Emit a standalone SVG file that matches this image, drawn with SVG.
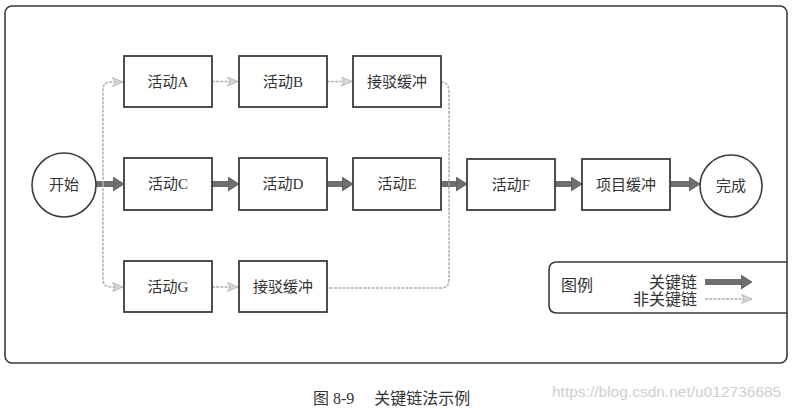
<svg xmlns="http://www.w3.org/2000/svg" width="795" height="409" viewBox="0 0 795 409">
<style>
.box{fill:#fff;stroke:#3c3c3c;stroke-width:1.8}
.circ{fill:#fff;stroke:#3c3c3c;stroke-width:1.6}
.t{font-family:"Liberation Serif","Noto Sans CJK SC",serif;font-size:15px;fill:#333;text-anchor:middle;dominant-baseline:central}
.crit{stroke:#6e6e6e;stroke-width:6;fill:none}
.non{stroke:#b0b0b0;stroke-width:1.5;fill:none;stroke-dasharray:3 1.2}
.frame{fill:none;stroke:#3a3a3a;stroke-width:1.6}
</style>
<defs>
<marker id="hc" markerUnits="userSpaceOnUse" markerWidth="12" markerHeight="16" refX="0" refY="7" orient="auto">
<path d="M0,0 L11,7 L0,14 Z" fill="#6e6e6e" stroke="#555" stroke-width="0.8"/>
</marker>
<marker id="hn" markerUnits="userSpaceOnUse" markerWidth="12" markerHeight="12" refX="11" refY="5" orient="auto">
<path d="M0.5,0.5 L11,5 L0.5,9.5 L3,5 Z" fill="#d6d6d6" stroke="#b0b0b0" stroke-width="0.8"/>
</marker>
</defs>
<rect class="frame" x="5" y="6" width="782" height="357" rx="7"/>
<g id="connectors">
<line class="crit" x1="96" y1="184" x2="113" y2="184" marker-end="url(#hc)"/>
<line class="crit" x1="212" y1="184" x2="228" y2="184" marker-end="url(#hc)"/>
<line class="crit" x1="327" y1="184" x2="342" y2="184" marker-end="url(#hc)"/>
<line class="crit" x1="441" y1="184" x2="456" y2="184" marker-end="url(#hc)"/>
<line class="crit" x1="555" y1="184" x2="571" y2="184" marker-end="url(#hc)"/>
<line class="crit" x1="670" y1="184" x2="689" y2="184" marker-end="url(#hc)"/>
<line class="non" x1="212" y1="81.5" x2="238" y2="81.5" marker-end="url(#hn)"/>
<line class="non" x1="327" y1="81.5" x2="352" y2="81.5" marker-end="url(#hn)"/>
<line class="non" x1="212" y1="287" x2="238" y2="287" marker-end="url(#hn)"/>
<path class="non" d="M103,184 V90 Q103,82 111,82 H123" marker-end="url(#hn)"/>
<path class="non" d="M103,184 V279 Q103,287 111,287 H123" marker-end="url(#hn)"/>
<path class="non" d="M441,82 Q449,82 449,92 V280 Q449,288 441,288 H327"/>
</g>
<g id="start"><circle class="circ" cx="64" cy="185" r="32"/><text class="t" x="64" y="185">开始</text></g>
<g id="actA"><rect class="box" x="124" y="56" width="88" height="51"/><text class="t" x="168" y="81.5">活动A</text></g>
<g id="actB"><rect class="box" x="239" y="56" width="88" height="51"/><text class="t" x="283" y="81.5">活动B</text></g>
<g id="buf1"><rect class="box" x="353" y="56" width="88" height="51"/><text class="t" x="397" y="81.5">接驳缓冲</text></g>
<g id="actC"><rect class="box" x="124" y="158" width="88" height="52"/><text class="t" x="168" y="184">活动C</text></g>
<g id="actD"><rect class="box" x="239" y="158" width="88" height="52"/><text class="t" x="283" y="184">活动D</text></g>
<g id="actE"><rect class="box" x="353" y="158" width="88" height="52"/><text class="t" x="397" y="184">活动E</text></g>
<g id="actF"><rect class="box" x="467" y="159" width="88" height="51"/><text class="t" x="511" y="184.5">活动F</text></g>
<g id="projbuf"><rect class="box" x="582" y="159" width="88" height="51"/><text class="t" x="626" y="184.5">项目缓冲</text></g>
<g id="finish"><circle class="circ" cx="731" cy="186" r="31"/><text class="t" x="731" y="186">完成</text></g>
<g id="actG"><rect class="box" x="124" y="261" width="88" height="51"/><text class="t" x="168" y="286.5">活动G</text></g>
<g id="buf2"><rect class="box" x="239" y="261" width="88" height="51"/><text class="t" x="283" y="286.5">接驳缓冲</text></g>
<g id="legend">
<path class="frame" d="M787,262 H557 Q549,262 549,270 V305 Q549,313 557,313 H787"/>
<text class="t" x="577" y="285" style="font-size:16px">图例</text>
<text class="t" x="697" y="282" style="text-anchor:end;font-size:16px">关键链</text>
<text class="t" x="697" y="299" style="text-anchor:end;font-size:16px">非关键链</text>
<line class="crit" x1="705" y1="282" x2="741" y2="282" marker-end="url(#hc)"/>
<line class="non" x1="705" y1="299" x2="752" y2="299" marker-end="url(#hn)"/>
</g>
<text class="t" x="313" y="398" style="text-anchor:start;font-size:16px">图 8-9　 关键链法示例</text>
<text x="552" y="391" style="font-family:'Liberation Sans',sans-serif;font-size:15.5px;fill:#cfcfcf;dominant-baseline:central">https://blog.csdn.net/u012736685</text>
</svg>
